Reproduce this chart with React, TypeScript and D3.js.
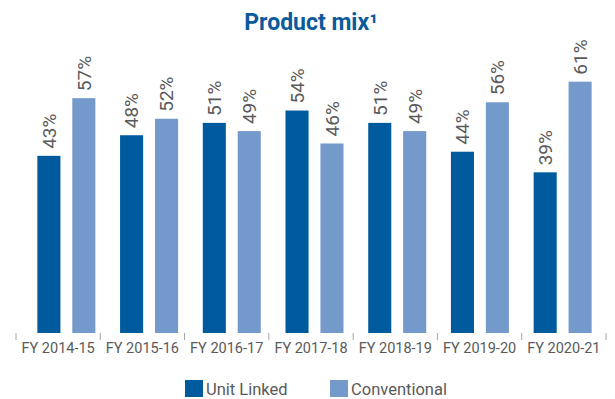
import React from "react";
import * as d3 from "d3";

const categories = ["FY 2014-15", "FY 2015-16", "FY 2016-17", "FY 2017-18", "FY 2018-19", "FY 2019-20", "FY 2020-21"];
const unitLinked = [43, 48, 51, 54, 51, 44, 39];
const conventional = [57, 52, 49, 46, 49, 56, 61];
const seriesNames = ["Unit Linked", "Conventional"];
const colors = ["#005b9e", "#739acb"];

const W = 615;
const H = 399;
const baseY = 333;

export default function App() {
  const series = [unitLinked, conventional];
  const xLabel = d3.scaleBand<string>().domain(categories).range([16, 606]).padding(0);
  const xBar = d3.scaleBand<string>().domain(categories).range([25, 604]).padding(0);
  const x1 = d3.scaleBand<string>().domain(seriesNames).range([-29, 29]).paddingInner(0.34);
  const y = d3.scaleLinear().domain([0, 100]).range([baseY, baseY - 412]);
  const ticks = categories.map((c) => xLabel(c) as number).concat([606]);
  const font = "Roboto, 'DejaVu Sans', sans-serif";

  return (
    <svg width={W} height={H} style={{ position: "absolute", left: 0, top: 0, fontFamily: font }}>
      <rect width={W} height={H} fill="#ffffff" />
      <text x={311} y={30} textAnchor="middle" fontSize={23} fontWeight={700} fill="#0a5a9c">
        Product mix¹
      </text>
      {categories.map((c, i) => {
        const cx = (xBar(c) as number) + xBar.bandwidth() / 2;
        return series.map((s, j) => {
          const bx = cx + (x1(seriesNames[j]) as number);
          const bw = x1.bandwidth();
          const top = y(s[i]);
          const tx = bx + bw / 2;
          const ty = top - 7;
          return (
            <g key={c + j}>
              <rect x={bx} y={top} width={bw} height={baseY - top} fill={colors[j]} />
              <text
                transform={`translate(${tx},${ty}) rotate(-90)`}
                dy="0.36em"
                fontSize={19}
                fill="#5a5a5a"
              >
                {s[i]}%
              </text>
            </g>
          );
        });
      })}
      {ticks.map((t, i) => (
        <line key={i} x1={t} x2={t} y1={baseY} y2={baseY + 7} stroke="#a6a6a6" strokeWidth={1} />
      ))}
      {categories.map((c) => (
        <text
          key={c}
          x={(xLabel(c) as number) + xLabel.bandwidth() / 2}
          y={353}
          textAnchor="middle"
          fontSize={14.5}
          fill="#5a5a5a"
        >
          {c}
        </text>
      ))}
      {seriesNames.map((n, j) => {
        const lx = j === 0 ? 185 : 330;
        return (
          <g key={n}>
            <rect x={lx} y={380} width={18} height={17} fill={colors[j]} />
            <text x={lx + 21} y={395} fontSize={16.5} fill="#5a5a5a">
              {n}
            </text>
          </g>
        );
      })}
    </svg>
  );
}
